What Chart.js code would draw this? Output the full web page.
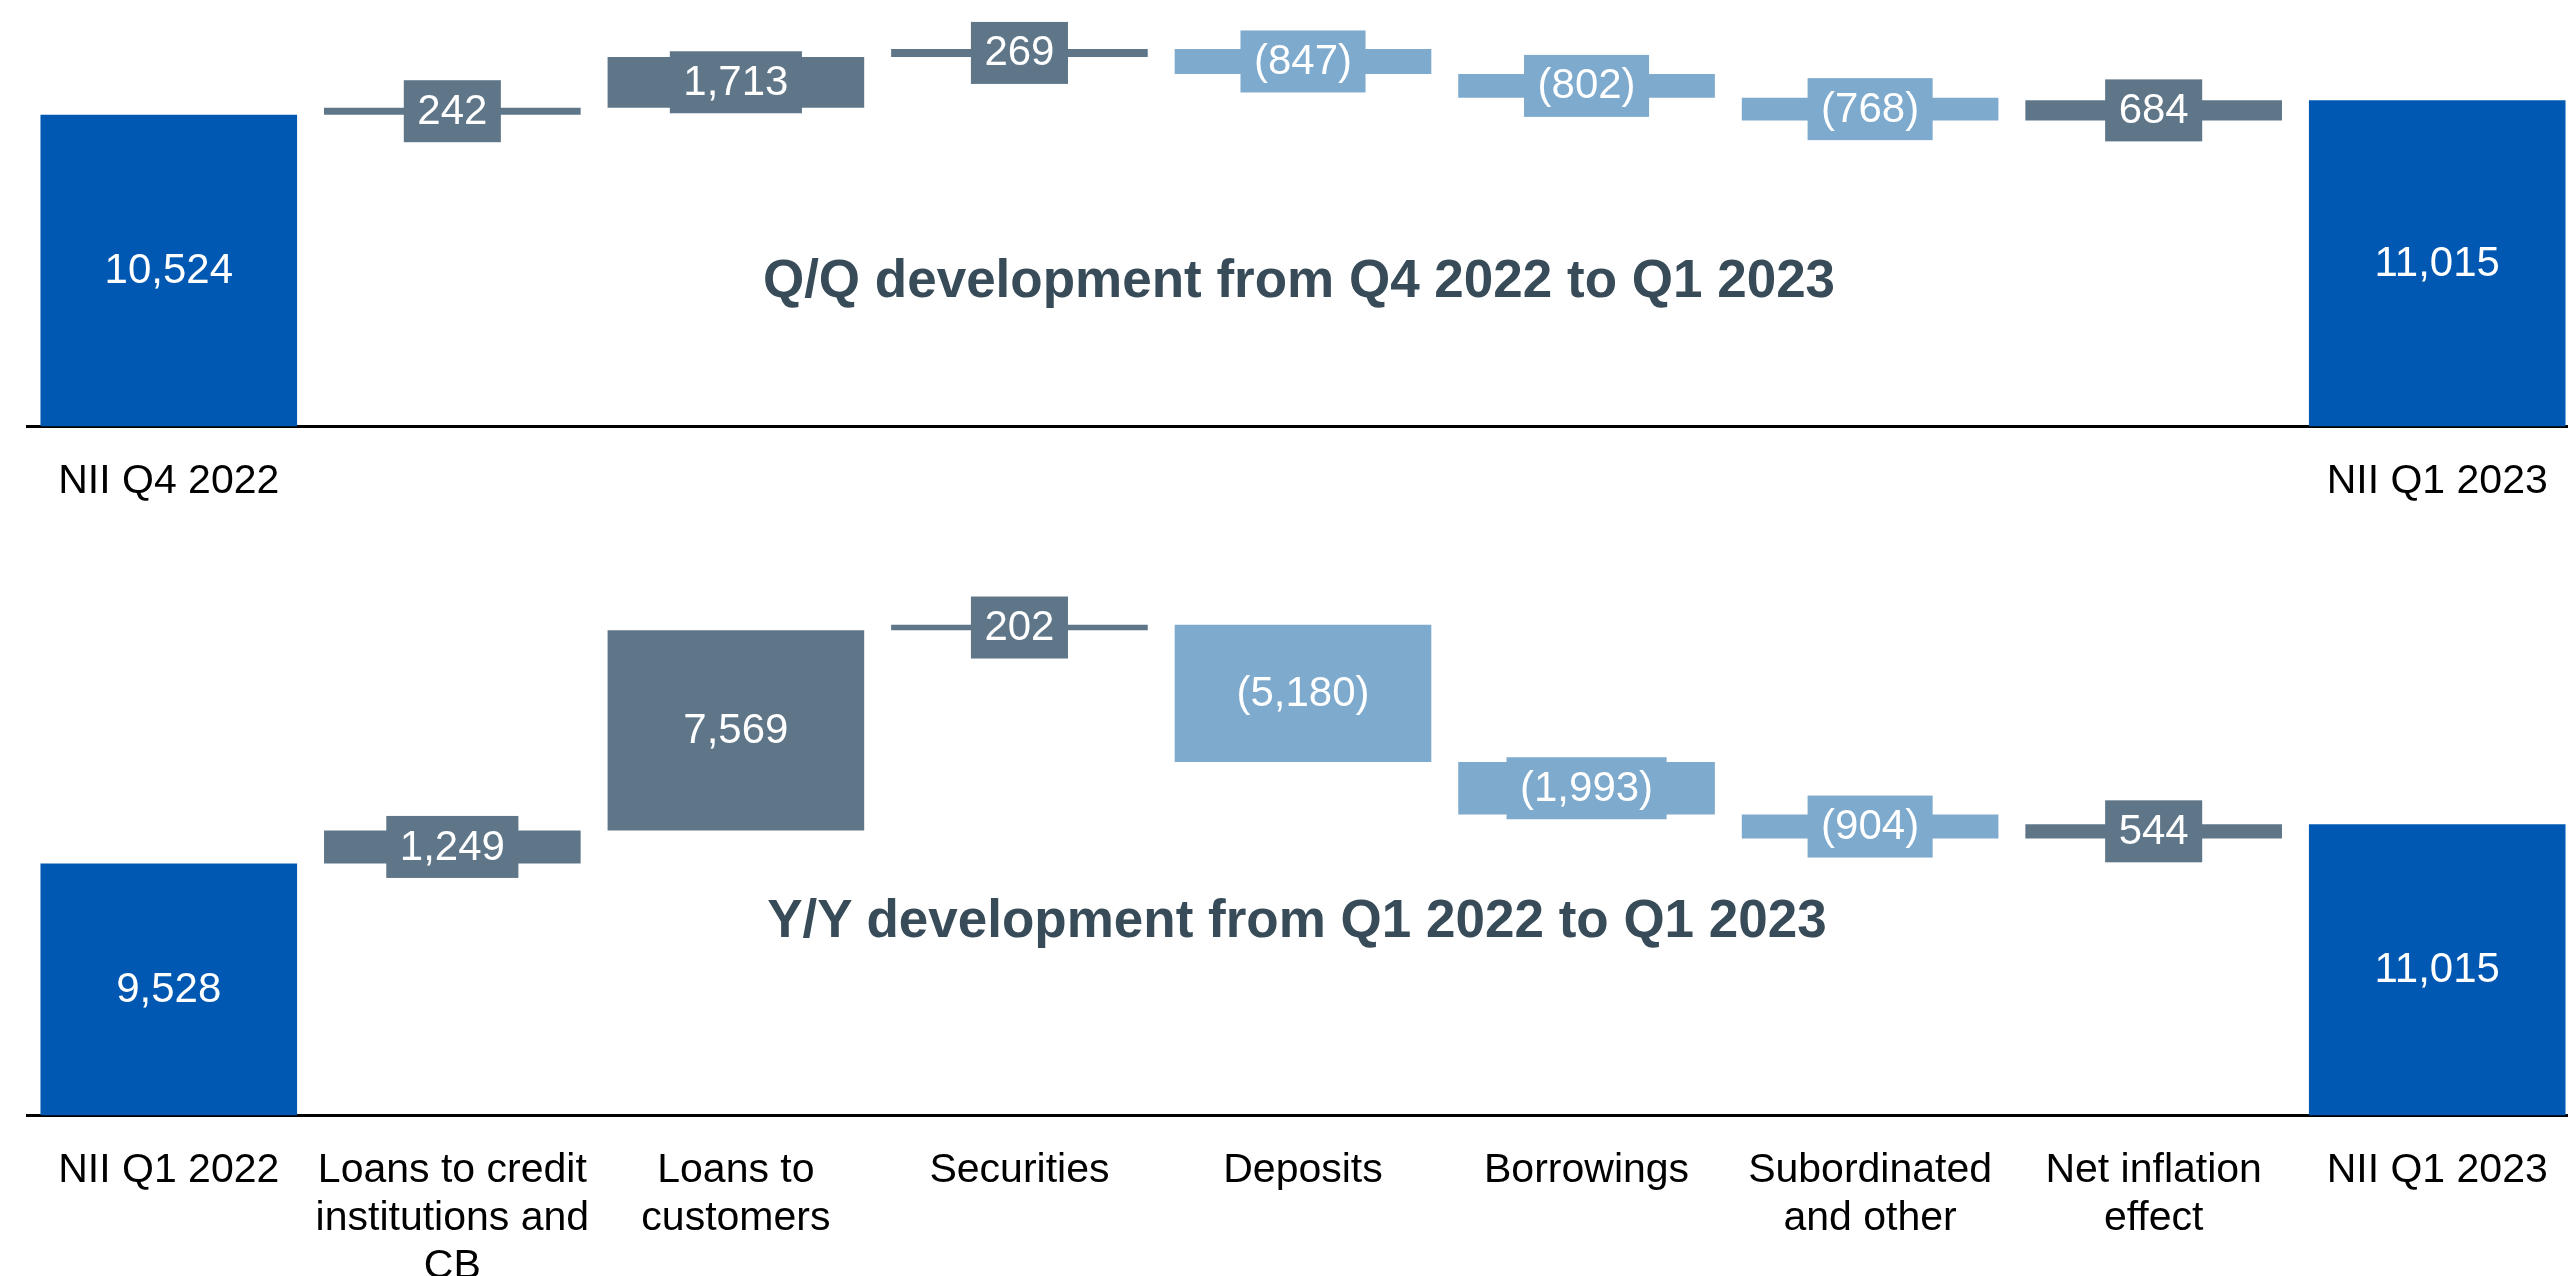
<!DOCTYPE html>
<html>
<head>
<meta charset="utf-8">
<script src="https://cdn.jsdelivr.net/npm/chart.js@4.4.0/dist/chart.umd.min.js"></script>
<style>
  html, body { margin: 0; padding: 0; background: #fff; overflow: hidden; }
  #page { position: relative; width: 2568px; height: 1276px; overflow: hidden; }
  canvas { position: absolute; left: 0; }
  .title {
    position: absolute;
    transform: translateX(-50%);
    white-space: nowrap;
    font: bold 53px "Liberation Sans", Arial, sans-serif;
    line-height: 53px;
    color: #384b58;
  }
</style>
</head>
<body>
<div id="page">
  <canvas id="qq" width="2600" height="560" style="top:0"></canvas>
  <canvas id="yy" width="2600" height="716" style="top:560px"></canvas>
  <div class="title" style="left:1299px;top:252px">Q/Q development from Q4 2022 to Q1 2023</div>
  <div class="title" style="left:1297px;top:892px">Y/Y development from Q1 2022 to Q1 2023</div>
</div>
<script>
// categories (bottom chart carries the full set, top one only the two totals)
const categories = [
  'NII Q1 2022',
  ['Loans to credit', 'institutions and', 'CB'],
  ['Loans to', 'customers'],
  'Securities',
  'Deposits',
  'Borrowings',
  ['Subordinated', 'and other'],
  ['Net inflation', 'effect'],
  'NII Q1 2023'
];
const qqLabels = ['NII Q4 2022', '', '', '', '', '', '', '', 'NII Q1 2023'];

// Q/Q: Q4 2022 -> Q1 2023
const qqStart = 10524;
const qqChanges = [242, 1713, 269, -847, -802, -768, 684];
const qqEnd = 11015;

// Y/Y: Q1 2022 -> Q1 2023
const yyStart = 9528;
const yyChanges = [1249, 7569, 202, -5180, -1993, -904, 544];
const yyEnd = 11015;

const FONT = '"Liberation Sans", Arial, sans-serif';
const TOTAL = '#0058b2';
const UP = '#5f7689';
const DOWN = '#7eaacd';

function waterfall(start, changes, end) {
  const bars = [[0, start]];
  let level = start;
  changes.forEach(c => {
    bars.push([level, level + c]);
    level += c;
  });
  bars.push([0, end]);
  return bars;
}

function fmt(v) {
  const s = Math.abs(v).toLocaleString('en-US');
  return v < 0 ? '(' + s + ')' : s;
}

// label box in the bar colour, centred on each bar
const valueBoxes = {
  id: 'valueBoxes',
  afterDatasetsDraw(chart, args, opts) {
    const ctx = chart.ctx;
    const meta = chart.getDatasetMeta(0);
    const colors = chart.data.datasets[0].backgroundColor;
    ctx.save();
    ctx.font = '42px ' + FONT;
    ctx.textAlign = 'center';
    ctx.textBaseline = 'middle';
    meta.data.forEach((bar, i) => {
      const txt = fmt(opts.values[i]);
      const cy = (bar.y + bar.base) / 2;
      const w = ctx.measureText(txt).width + 27;
      ctx.fillStyle = colors[i];
      ctx.fillRect(bar.x - w / 2, cy - 31, w, 62);
      ctx.fillStyle = '#fff';
      ctx.fillText(txt, bar.x, cy + 1);
    });
    ctx.restore();
  }
};

function makeChart(id, labels, start, changes, end, yMax, axisHeight) {
  const colors = [TOTAL, ...changes.map(c => c >= 0 ? UP : DOWN), TOTAL];
  return new Chart(document.getElementById(id), {
    type: 'bar',
    data: {
      labels: labels,
      datasets: [{
        data: waterfall(start, changes, end),
        backgroundColor: colors,
        borderWidth: 0,
        barPercentage: 0.905,
        categoryPercentage: 1
      }]
    },
    options: {
      responsive: false,
      animation: false,
      devicePixelRatio: 1,
      layout: { padding: { left: 27, right: 21, top: 0, bottom: 0 } },
      plugins: {
        legend: { display: false },
        tooltip: { enabled: false },
        valueBoxes: { values: [start, ...changes, end] }
      },
      scales: {
        x: {
          grid: { display: false },
          border: { display: true, color: '#000', width: 3 },
          ticks: {
            color: '#000',
            font: { family: FONT, size: 41, lineHeight: 48 / 41 },
            padding: 23,
            autoSkip: false,
            maxRotation: 0,
            minRotation: 0
          },
          afterFit: s => { s.height = axisHeight; }
        },
        y: { display: false, min: 0, max: yMax }
      }
    },
    plugins: [valueBoxes]
  });
}

makeChart('qq', qqLabels, qqStart, qqChanges, qqEnd, 14400, 133.5);
makeChart('yy', categories, yyStart, yyChanges, yyEnd, 21000, 160.5);
</script>
</body>
</html>
